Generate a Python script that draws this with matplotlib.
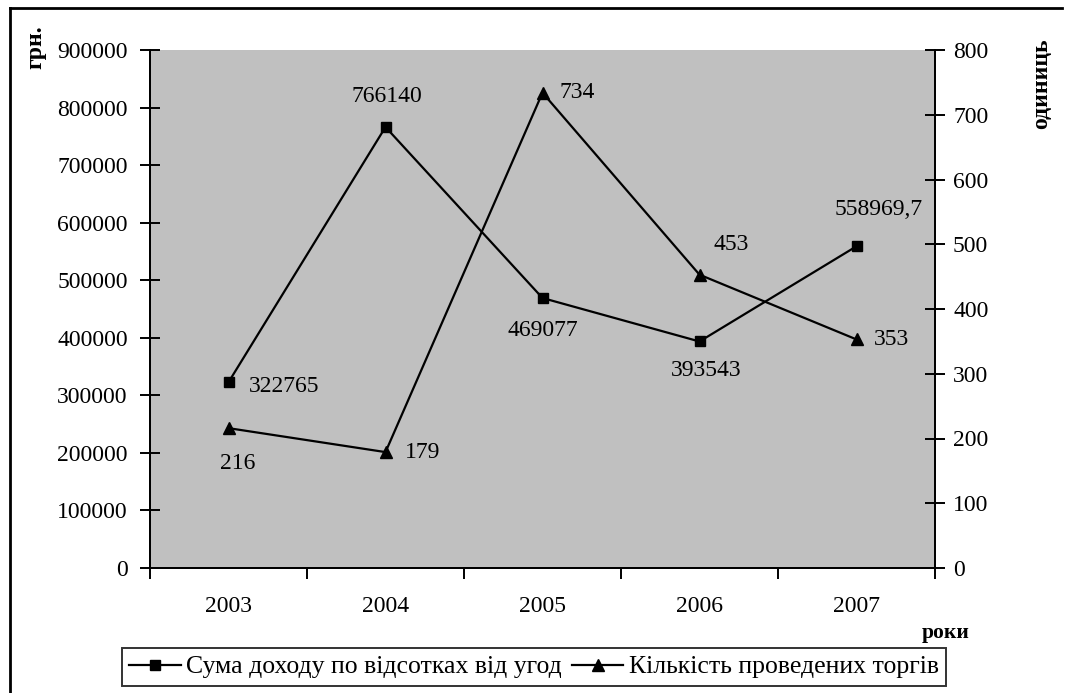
import matplotlib
matplotlib.use("Agg")
import matplotlib.pyplot as plt
from matplotlib.lines import Line2D

plt.rcParams['font.family'] = ['Liberation Serif', 'DejaVu Serif']

years = ["2003", "2004", "2005", "2006", "2007"]
income = [322765, 766140, 469077, 393543, 558969.7]
income_labels = ["322765", "766140", "469077", "393543", "558969,7"]
trades = [216, 179, 734, 453, 353]
trades_labels = ["216", "179", "734", "453", "353"]

left_ticks = list(range(0, 900001, 100000))
right_ticks = list(range(0, 801, 100))

W, H = 1066, 693
fig = plt.figure(figsize=(W / 100, H / 100), dpi=100)

def px(x0, y0, x1, y1):
    return [x0 / W, 1 - y1 / H, (x1 - x0) / W, (y1 - y0) / H]

ax = fig.add_axes(px(150, 50, 935, 568))
ax.set_facecolor('#C0C0C0')
ax2 = ax.twinx()

x = list(range(len(years)))
ax.set_xlim(-0.5, len(years) - 0.5)
ax.set_ylim(0, 900000)
ax2.set_ylim(0, 800)

lw = 1.6
ax.plot(x, income, color='black', lw=lw, marker='s', ms=6.8, mfc='black', mec='black', zorder=3)
ax2.plot(x, trades, color='black', lw=lw, marker='^', ms=8.5, mfc='black', mec='black', zorder=3)

fs = 17
# label offsets in pixels (dx, dy up)
inc_off = [(20, -4, 'left'), (1, 31, 'center'), (0, -32, 'center'), (7, -29, 'center'), (22, 37, 'center')]
tr_off = [(9, -35, 'center'), (19, 0, 'left'), (17, 0, 'left'), (14, 30, 'left'), (17, 0, 'left')]
for i, (v, lab) in enumerate(zip(income, income_labels)):
    dx, dy, ha = inc_off[i]
    ax.annotate(lab, (x[i], v), xytext=(dx * 0.72, dy * 0.72), textcoords='offset points',
                ha=ha, va='center', fontsize=fs)
for i, (v, lab) in enumerate(zip(trades, trades_labels)):
    dx, dy, ha = tr_off[i]
    ax2.annotate(lab, (x[i], v), xytext=(dx * 0.72, dy * 0.72), textcoords='offset points',
                 ha=ha, va='center', fontsize=fs)

# spines
for a in (ax, ax2):
    a.spines['top'].set_visible(False)
    for s in ('left', 'right', 'bottom'):
        a.spines[s].set_linewidth(1.4)
        a.spines[s].set_color('black')

ax.set_yticks(left_ticks)
ax.set_yticklabels([str(t) for t in left_ticks], fontsize=fs)
ax2.set_yticks(right_ticks)
ax2.set_yticklabels([str(t) for t in right_ticks], fontsize=fs)
ax.tick_params(axis='y', direction='inout', length=14, width=1.4, pad=9)
ax2.tick_params(axis='y', direction='inout', length=14, width=1.4, pad=6)

ax.set_xticks([i - 0.5 for i in range(len(years) + 1)])
ax.set_xticklabels([])
ax.set_xticks(x, minor=True)
ax.set_xticklabels(years, minor=True, fontsize=fs)
ax.tick_params(axis='x', which='major', direction='out', length=8, width=1.4)
ax.tick_params(axis='x', which='minor', length=0, pad=20)

fig.text(36 / W, 1 - 47 / H, 'грн.', rotation=90, ha='center', va='center',
         fontsize=17, fontweight='bold')
fig.text(1042 / W, 1 - 84 / H, 'одиниць', rotation=90, ha='center', va='center',
         fontsize=17, fontweight='bold')
fig.text(946 / W, 1 - 633 / H, 'роки', ha='center', va='center',
         fontsize=15.5, fontweight='bold')

handles = [Line2D([], [], color='black', lw=lw, marker='s', ms=6.8),
           Line2D([], [], color='black', lw=lw, marker='^', ms=8.5)]
leg = fig.legend(handles, ['Сума доходу по відсотках від угод', 'Кількість проведених торгів'],
                 loc='center', bbox_to_anchor=(534 / W, 1 - 667 / H), ncol=2,
                 fontsize=18.5, frameon=True, fancybox=False, edgecolor='black',
                 handlelength=2.0, handletextpad=0.2, columnspacing=0.4,
                 borderpad=0.3, borderaxespad=0)
leg.get_frame().set_linewidth(1.4)

# outer border (top and left visible)
fig.add_artist(Line2D([10 / W, 10 / W], [0, 1 - 8 / H], color='black', lw=2))
fig.add_artist(Line2D([10 / W, 1062 / W], [1 - 8 / H, 1 - 8 / H], color='black', lw=2))

fig.savefig('out.png', dpi=100)
